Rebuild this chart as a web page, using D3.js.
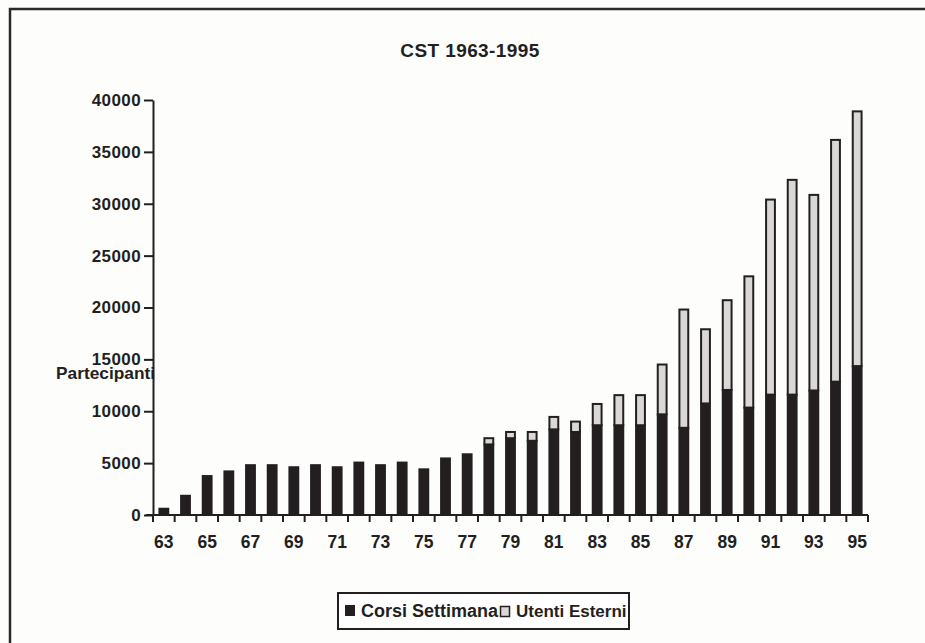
<!DOCTYPE html>
<html>
<head>
<meta charset="utf-8">
<script src="https://cdn.jsdelivr.net/npm/d3@7"></script>
<style>
  html, body { margin: 0; padding: 0; background: #fdfdfc; }
  svg { display: block; font-family: "Liberation Sans", Arial, sans-serif; font-weight: bold; }
</style>
</head>
<body>
<svg id="chart" width="925" height="643"></svg>
<script>
// Data
const years = ["63","64","65","66","67","68","69","70","71","72","73","74","75","76","77","78",
  "79","80","81","82","83","84","85","86","87","88","89","90","91","92","93","94","95"];
const corsiSettimanali = [700, 1950, 3850, 4300, 4900, 4900, 4700, 4900, 4700, 5150, 4900, 5150, 4500,
  5550, 5950, 6900, 7500, 7250, 8350, 8100, 8750, 8750, 8750, 9800, 8500, 10850, 12150, 10450,
  11700, 11700, 12100, 12950, 14450];
const utentiEsterni = [0, 0, 0, 0, 0, 0, 0, 0, 0, 0, 0, 0, 0, 0, 0, 600, 600, 850, 1200, 1000, 2050,
  2900, 2900, 4800, 11400, 7150, 8650, 12650, 18800, 20700, 18850, 23300, 24550];
const yTicks = [0, 5000, 10000, 15000, 20000, 25000, 30000, 35000, 40000];
const xLabels = ["63","65","67","69","71","73","75","77","79","81","83","85","87","89","91","93","95"];
const seriesNames = ["Corsi Settimanali", "Utenti Esterni"];

const dark = "#231f20";
const light = "#d9d8d6";

const svg = d3.select("#chart");

// Outer frame (runs off the page to the right and bottom)
svg.append("rect")
  .attr("x", 10).attr("y", 9).attr("width", 1000).attr("height", 1000)
  .attr("fill", "none").attr("stroke", "#2a2a2a").attr("stroke-width", 2.5);

const x = d3.scaleBand().domain(years).range([153, 868]).paddingInner(0.5).paddingOuter(0.25);
const y = d3.scaleLinear().domain([0, 40000]).range([515, 100]);

// Title
svg.append("text")
  .attr("x", 470).attr("y", 56.5)
  .attr("text-anchor", "middle")
  .attr("font-size", 19).attr("letter-spacing", 0.4)
  .attr("fill", dark)
  .text("CST 1963-1995");

// Y axis title (overlapped by the axis line, as in the print)
svg.append("text")
  .attr("x", 155).attr("y", 378.5)
  .attr("text-anchor", "end")
  .attr("font-size", 17.3)
  .attr("fill", dark)
  .text("Partecipanti");

// Bars
const rows = years.map((yr, i) => ({ yr, c: corsiSettimanali[i], u: utentiEsterni[i] }));

svg.append("g").selectAll("rect")
  .data(rows)
  .join("rect")
  .attr("x", d => x(d.yr))
  .attr("y", d => y(d.c))
  .attr("width", x.bandwidth())
  .attr("height", d => y(0) - y(d.c))
  .attr("fill", dark);

svg.append("g").selectAll("rect")
  .data(rows.filter(d => d.u > 0))
  .join("rect")
  .attr("x", d => x(d.yr) + 1)
  .attr("y", d => y(d.c + d.u) + 1)
  .attr("width", x.bandwidth() - 2)
  .attr("height", d => y(d.c) - y(d.c + d.u))
  .attr("fill", light)
  .attr("stroke", dark)
  .attr("stroke-width", 2);

// Y axis
const yAxis = svg.append("g")
  .attr("transform", "translate(153,0)")
  .call(d3.axisLeft(y).tickValues(yTicks).tickFormat(d3.format("d"))
    .tickSize(9).tickSizeOuter(0).tickPadding(3));
yAxis.select(".domain").attr("stroke", dark).attr("stroke-width", 2);
yAxis.selectAll(".tick line").attr("stroke", dark).attr("stroke-width", 2);
yAxis.selectAll(".tick text")
  .attr("font-family", "Liberation Sans, Arial, sans-serif")
  .attr("font-weight", "bold")
  .attr("font-size", 17)
  .attr("letter-spacing", 0.4)
  .attr("fill", dark);

// X axis: line with ticks between the bars, labels on every other year
const half = (x.step() - x.bandwidth()) / 2;
const bounds = years.map(d => x(d) - half).concat([x(years[years.length - 1]) + x.bandwidth() + half]);

svg.append("line")
  .attr("x1", 146).attr("x2", 868)
  .attr("y1", y(0)).attr("y2", y(0))
  .attr("stroke", dark).attr("stroke-width", 2);

svg.append("g").selectAll("line")
  .data(bounds)
  .join("line")
  .attr("x1", d => d).attr("x2", d => d)
  .attr("y1", y(0)).attr("y2", y(0) + 7)
  .attr("stroke", dark).attr("stroke-width", 2);

const xAxis = svg.append("g")
  .attr("transform", `translate(0,${y(0)})`)
  .call(d3.axisBottom(x).tickValues(xLabels).tickSize(0).tickPadding(21));
xAxis.select(".domain").remove();
xAxis.selectAll(".tick text")
  .attr("font-family", "Liberation Sans, Arial, sans-serif")
  .attr("font-weight", "bold")
  .attr("font-size", 17.5)
  .attr("fill", dark);

// Legend (the second swatch covers the end of the first label, as in the print)
const legend = svg.append("g");
legend.append("clipPath").attr("id", "legclip")
  .append("rect").attr("x", 338).attr("y", 593).attr("width", 291).attr("height", 36);
legend.append("rect")
  .attr("x", 338).attr("y", 593).attr("width", 291).attr("height", 36)
  .attr("fill", "#fff");
const legText = legend.append("g").attr("clip-path", "url(#legclip)");
legText.append("rect")
  .attr("x", 345).attr("y", 605).attr("width", 10).attr("height", 11)
  .attr("fill", dark);
legText.append("text")
  .attr("x", 361).attr("y", 617)
  .attr("font-size", 18).attr("fill", dark)
  .text(seriesNames[0]);
legText.append("rect")
  .attr("x", 499).attr("y", 603).attr("width", 13).attr("height", 16)
  .attr("fill", "#fff");
legText.append("rect")
  .attr("x", 500.5).attr("y", 606.5).attr("width", 9).attr("height", 10)
  .attr("fill", light).attr("stroke", dark).attr("stroke-width", 1.5);
legText.append("text")
  .attr("x", 516).attr("y", 617)
  .attr("font-size", 17).attr("fill", dark)
  .text(seriesNames[1]);
legend.append("rect")
  .attr("x", 338).attr("y", 593).attr("width", 291).attr("height", 36)
  .attr("fill", "none").attr("stroke", dark).attr("stroke-width", 2);
</script>
</body>
</html>
